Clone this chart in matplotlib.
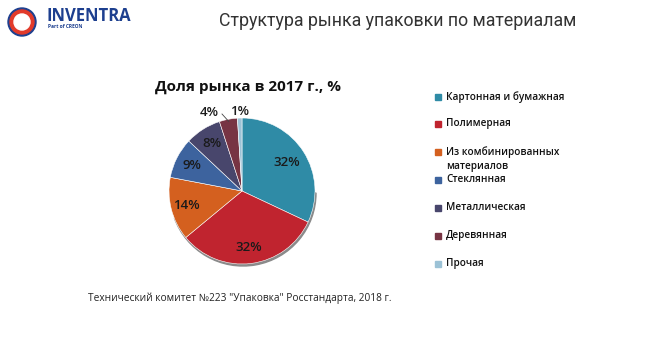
import numpy as np
import matplotlib.pyplot as plt
from matplotlib.patches import Circle, Wedge

plt.rcParams['font.family'] = ['Open Sans', 'DejaVu Sans']

# data
categories = ['Картонная и бумажная', 'Полимерная', 'Из комбинированных\nматериалов',
              'Стеклянная', 'Металлическая', 'Деревянная', 'Прочая']
shares = [32, 32, 14, 9, 8, 4, 1]
colors = ['#2f8ba6', '#c0242f', '#d4601f', '#3d639e', '#48466c', '#773443', '#9cc2d6']
label_dist = [0.72, 0.78, 0.79, 0.77, 0.77, 1.16, 1.09]
label_shift = [0, 0, 0, 0, 0, 12, 0]   # deg, for the small outer labels

W, H = 662, 341
fig = plt.figure(figsize=(W / 100, H / 100), dpi=100)
ax = fig.add_axes([0, 0, 1, 1])
ax.set_aspect('equal')

cx, cy, R = 242, H - 191, 73

# slight 3d edge under the pie
ax.add_patch(Wedge((cx + 1, cy - 2), R, 200, 360, color='#8a8a8a', zorder=1))
wedges, _ = ax.pie(shares, colors=colors, startangle=90, counterclock=False,
                   center=(cx, cy), radius=R, frame=True,
                   wedgeprops=dict(linewidth=0.4, edgecolor='white'))
for w in wedges:
    w.set_zorder(2)
ax.set_xlim(0, W)
ax.set_ylim(0, H)
ax.axis('off')

for w, s, d, sh in zip(wedges, shares, label_dist, label_shift):
    mid = np.deg2rad((w.theta1 + w.theta2) / 2 + sh)
    tx, ty = cx + d * R * np.cos(mid), cy + d * R * np.sin(mid)
    ax.text(tx, ty, f'{s}%', ha='center', va='center', fontsize=9.5,
            fontweight='semibold', color='#1a1a1a', zorder=5)
# leader for 4%
w4 = wedges[5]
m4 = np.deg2rad((w4.theta1 + w4.theta2) / 2)
ax.plot([cx - 20, cx + 0.97 * R * np.cos(m4)], [H - 114, cy + 0.97 * R * np.sin(m4)],
        color='#444444', lw=0.6, zorder=5)

ax.text(248, H - 87, 'Доля рынка в 2017 г., %', ha='center', va='center',
        fontsize=11, fontweight='bold', color='#111111')

# legend
leg_y = [97, 124, 152, 180, 208, 236, 264]
for lab, c, y in zip(categories, colors, leg_y):
    ax.add_patch(plt.Rectangle((435, H - y - 3), 6, 6, color=c, zorder=3))
    ax.text(446, H - y + 6, lab, ha='left', va='top', fontsize=7.2,
            fontweight='semibold', color='#111111', linespacing=1.45)

ax.text(88, H - 298, 'Технический комитет №223 "Упаковка" Росстандарта, 2018 г.',
        ha='left', va='center', fontsize=7.3, color='#222222')

# header
ax.text(398, H - 21, 'Структура рынка упаковки по материалам', ha='center',
        va='center', fontsize=12.8, color='#333333', family=['Roboto', 'DejaVu Sans'])

# logo
lx, ly = 22, H - 22
ax.add_patch(Circle((lx, ly), 14, color='#1d3f8f', zorder=3))
ax.add_patch(Circle((lx, ly), 12, color='#e23a2a', zorder=4))
ax.add_patch(Circle((lx, ly), 8, color='white', zorder=5))
ax.text(47, H - 16, 'INVENTRA', ha='left', va='center', fontsize=12,
        fontweight='bold', color='#1d3f8f')
ax.text(48, H - 27, 'Part of CREON', ha='left', va='center', fontsize=3.5,
        fontweight='bold', color='#1d3f8f')

fig.savefig('out.png', dpi=100)
